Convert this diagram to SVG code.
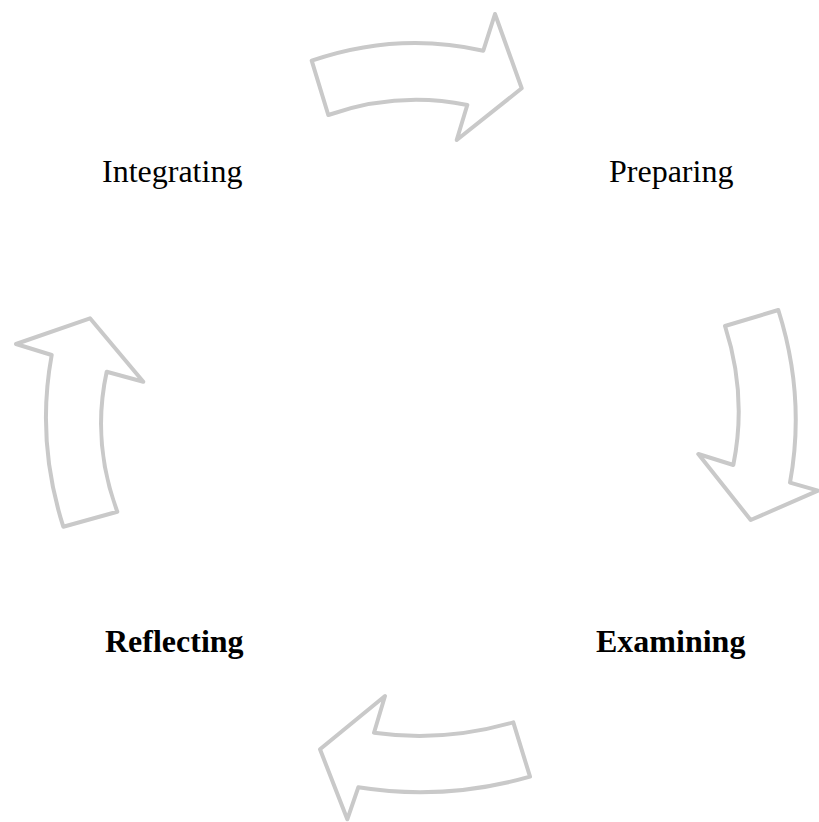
<svg xmlns="http://www.w3.org/2000/svg" width="819" height="822" viewBox="0 0 819 822">
<style>
.arr{fill:#ffffff;stroke:#c9c9c9;stroke-width:4;stroke-linejoin:round}
.lbl{font-family:"Liberation Serif","Times New Roman",serif;font-size:32px;fill:#000}
.b{font-weight:bold}
</style>
<rect width="819" height="822" fill="#ffffff"/>
<g id="connectors">
<path id="arrow-top" class="arr" d="M311.7,60.7 Q397.5,31.3 483.3,50.7 L495,14 L521.7,88.3 L456.7,140 L467.3,105 Q397.8,91 328.3,115 Z"/>
<path id="arrow-right" class="arr" d="M725,326 L778.3,310 Q805.8,396.4 790,482.7 L818,490.7 L750.7,520 L698.3,454 L733.3,465 Q747.4,395.5 725,326 Z"/>
<path id="arrow-bottom" class="arr" d="M513.3,722.3 L530,776.7 Q444.2,801 358.3,787.3 L347.3,819.3 L320,749.3 L385,696 L374,732.7 Q443.7,742.5 513.3,722.3 Z"/>
<path id="arrow-left" class="arr" d="M63.3,526.7 L117.3,511.7 Q91.4,441.7 106.7,371.7 L143.3,381.7 L90,318.3 L16,344 L51.7,355 Q35.9,440.9 63.3,526.7 Z"/>
</g>
<g id="node-integrating"><text class="lbl" x="102" y="182">Integrating</text></g>
<g id="node-preparing"><text class="lbl" x="609" y="182">Preparing</text></g>
<g id="node-examining"><text class="lbl b" x="596" y="652">Examining</text></g>
<g id="node-reflecting"><text class="lbl b" x="105" y="652">Reflecting</text></g>
</svg>
